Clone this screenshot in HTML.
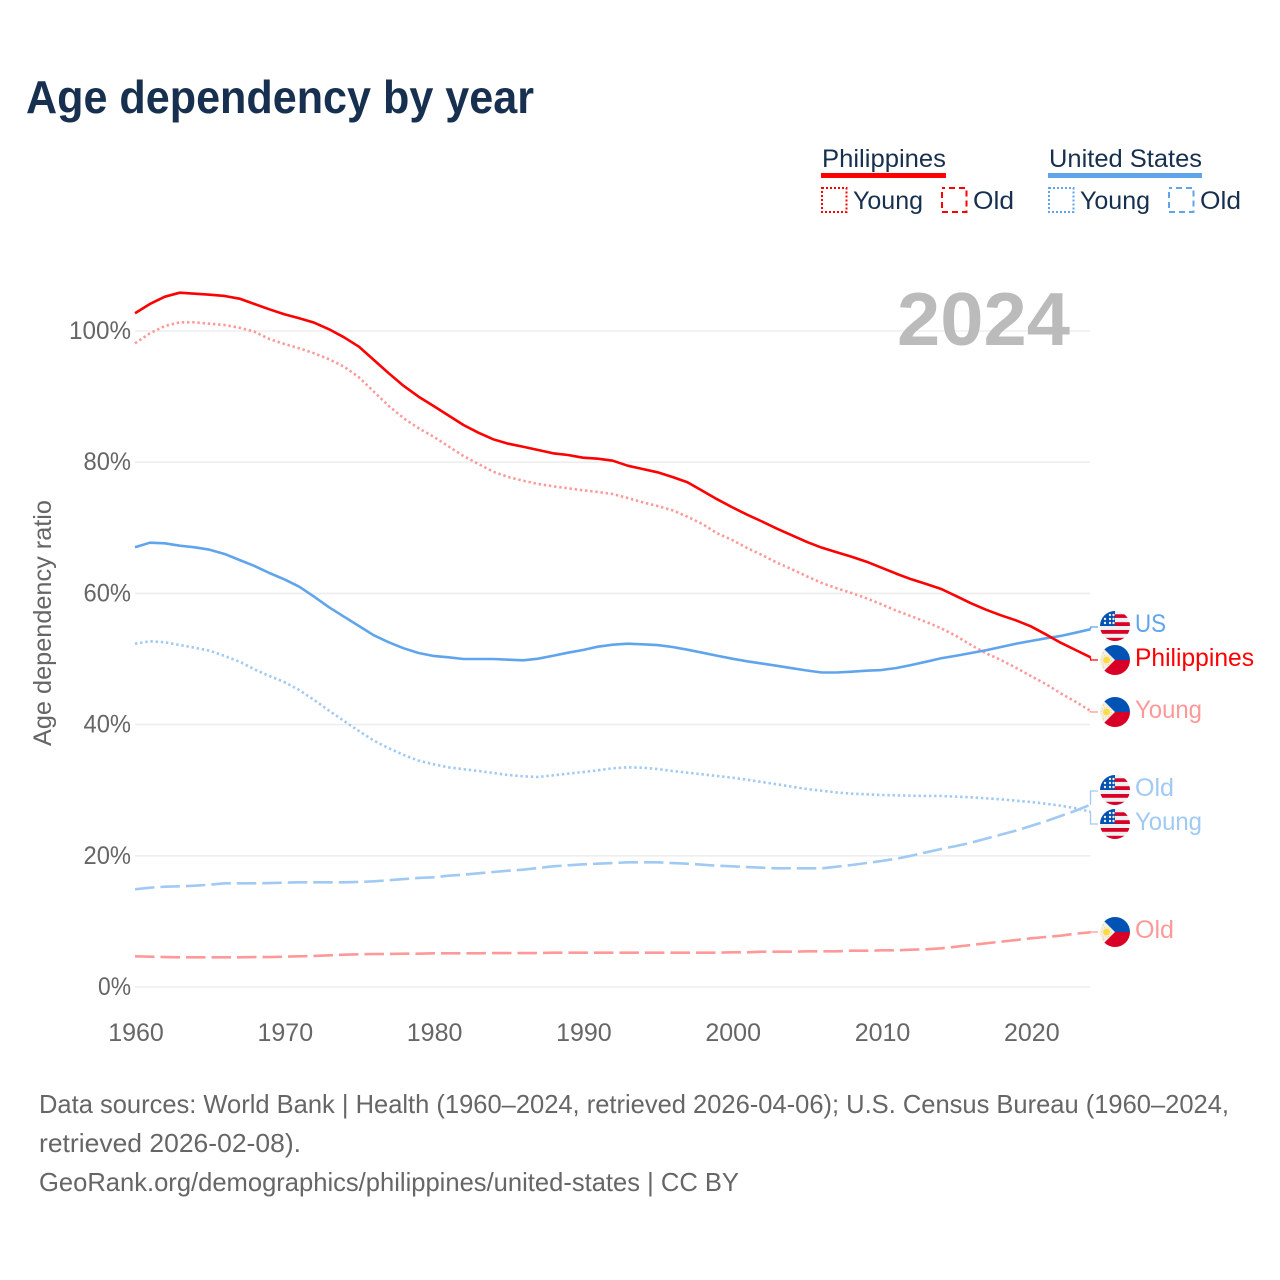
<!DOCTYPE html>
<html lang="en">
<head>
<meta charset="utf-8">
<title>Age dependency by year</title>
<style>
html,body{margin:0;padding:0;background:#fff;width:1280px;height:1280px;overflow:hidden}
svg{display:block}
text{font-family:"Liberation Sans",sans-serif}
.tick{font-size:25px;fill:#666}
.leg{font-size:25px;fill:#17304f}
.src{font-size:26px;fill:#666}
.lab{font-size:25px}
</style>
</head>
<body>
<svg id="chart" xmlns="http://www.w3.org/2000/svg" width="1280" height="1280" viewBox="0 0 1280 1280">
  <defs>
    <clipPath id="flag-clip"><circle cx="0" cy="0" r="15"/></clipPath>
    <g id="flag-us" clip-path="url(#flag-clip)">
      <rect x="-15" y="-15" width="30" height="30" fill="#f0f0f0"/>
      <rect x="0" y="-11.7" width="15" height="3.6" fill="#d80027"/>
      <rect x="0" y="-3.8" width="15" height="3.8" fill="#d80027"/>
      <rect x="-15" y="4" width="30" height="3.8" fill="#d80027"/>
      <rect x="-15" y="11.8" width="30" height="3.2" fill="#d80027"/>
      <rect x="-15" y="-15" width="15" height="15" fill="#0052b4"/>
      <g fill="#f0f0f0">
        <circle cx="-10" cy="-3" r="1.2"/><circle cx="-5" cy="-3" r="1.2"/><circle cx="-1.5" cy="-3" r="1.2"/>
        <circle cx="-10" cy="-7" r="1.2"/><circle cx="-5" cy="-7" r="1.2"/><circle cx="-1.5" cy="-7" r="1.2"/>
        <circle cx="-5" cy="-11" r="1.2"/><circle cx="-1.5" cy="-11" r="1.2"/>
      </g>
    </g>
    <g id="flag-ph" clip-path="url(#flag-clip)">
      <rect x="-15" y="-15" width="30" height="30" fill="#f0f0f0"/>
      <polygon points="-15,-15 15,-15 15,0 0,0" fill="#0052b4"/>
      <polygon points="-15,15 15,15 15,0 0,0" fill="#d80027"/>
      <circle cx="-8.5" cy="0" r="3.5" fill="#ffda44"/>
      <circle cx="-8.5" cy="0" r="5" fill="none" stroke="#ffda44" stroke-width="1" stroke-dasharray="1 1.6"/>
      <circle cx="-11.5" cy="-7" r="0.8" fill="#ffda44"/>
      <circle cx="-11.5" cy="7" r="0.8" fill="#ffda44"/>
    </g>
  </defs>

  <rect width="1280" height="1280" fill="#fff"/>

  <text x="26" y="113" font-size="46" font-weight="700" fill="#17304f" textLength="508" lengthAdjust="spacingAndGlyphs">Age dependency by year</text>

  <g>
    <text class="leg" x="822" y="167" textLength="124" lengthAdjust="spacingAndGlyphs">Philippines</text>
    <rect x="821" y="173" width="125" height="5" fill="#ff0000"/>
    <rect x="822" y="188" width="24.500" height="24" fill="none" stroke="#ff0000" stroke-width="2" stroke-dasharray="2 2"/>
    <text class="leg" x="853" y="209" textLength="70" lengthAdjust="spacingAndGlyphs">Young</text>
    <rect x="942" y="188" width="24.500" height="24" fill="none" stroke="#ff0000" stroke-width="2" stroke-dasharray="6 4" stroke-dashoffset="3"/>
    <text class="leg" x="973" y="209" textLength="41" lengthAdjust="spacingAndGlyphs">Old</text>

    <text class="leg" x="1049" y="167" textLength="153" lengthAdjust="spacingAndGlyphs">United States</text>
    <rect x="1048" y="173" width="154" height="5" fill="#60a5ec"/>
    <rect x="1049" y="188" width="24.500" height="24" fill="none" stroke="#60a5ec" stroke-width="2" stroke-dasharray="2 2"/>
    <text class="leg" x="1080" y="209" textLength="70" lengthAdjust="spacingAndGlyphs">Young</text>
    <rect x="1169" y="188" width="24.500" height="24" fill="none" stroke="#60a5ec" stroke-width="2" stroke-dasharray="6 4" stroke-dashoffset="3"/>
    <text class="leg" x="1200" y="209" textLength="41" lengthAdjust="spacingAndGlyphs">Old</text>
  </g>

  <g id="grid"></g>
  <g id="yticks"></g>
  <g id="xticks"></g>

  <text class="tick" transform="translate(51,746) rotate(-90)" x="0" y="0" textLength="246" lengthAdjust="spacingAndGlyphs">Age dependency ratio</text>

  <text x="897" y="345" font-size="75" font-weight="700" fill="#bbbbbb" textLength="173" lengthAdjust="spacingAndGlyphs">2024</text>

  <g id="series"></g>

  <g>
    <use href="#flag-us" x="1115" y="626"/>
    <text class="lab" x="1135" y="632" fill="#60a5ec" textLength="31" lengthAdjust="spacingAndGlyphs">US</text>
    <use href="#flag-ph" x="1115" y="660"/>
    <text class="lab" x="1135" y="666" fill="#ff0000" textLength="119" lengthAdjust="spacingAndGlyphs">Philippines</text>
    <use href="#flag-ph" x="1115" y="712"/>
    <text class="lab" x="1135" y="718" fill="#ff9999" textLength="67" lengthAdjust="spacingAndGlyphs">Young</text>
    <use href="#flag-us" x="1115" y="790"/>
    <text class="lab" x="1135" y="796" fill="#a0c9f4" textLength="39" lengthAdjust="spacingAndGlyphs">Old</text>
    <use href="#flag-us" x="1115" y="824"/>
    <text class="lab" x="1135" y="830" fill="#a0c9f4" textLength="67" lengthAdjust="spacingAndGlyphs">Young</text>
    <use href="#flag-ph" x="1115" y="932"/>
    <text class="lab" x="1135" y="938" fill="#ff9999" textLength="39" lengthAdjust="spacingAndGlyphs">Old</text>
  </g>

  <g>
    <text class="src" x="39" y="1113" textLength="1190" lengthAdjust="spacingAndGlyphs">Data sources: World Bank | Health (1960–2024, retrieved 2026-04-06); U.S. Census Bureau (1960–2024,</text>
    <text class="src" x="39" y="1152" textLength="262" lengthAdjust="spacingAndGlyphs">retrieved 2026-02-08).</text>
    <text class="src" x="39" y="1191" textLength="700" lengthAdjust="spacingAndGlyphs">GeoRank.org/demographics/philippines/united-states | CC BY</text>
  </g>
</svg>
<script>
const startYear = 1960;
const xTickLabels = [1960, 1970, 1980, 1990, 2000, 2010, 2020];
const yTickLabels = [0, 20, 40, 60, 80, 100];

const phTotal = [102.70,104.12,105.23,105.84,105.69,105.53,105.34,104.93,104.12,103.31,102.55,101.94,101.27,100.26,99.04,97.61,95.58,93.55,91.62,89.98,88.57,87.12,85.67,84.50,83.49,82.82,82.36,81.86,81.36,81.10,80.69,80.53,80.23,79.47,78.96,78.46,77.74,76.94,75.65,74.34,73.13,72.00,70.96,69.86,68.86,67.84,66.97,66.27,65.59,64.83,63.92,63.00,62.15,61.43,60.67,59.60,58.49,57.52,56.66,55.90,54.98,53.76,52.48,51.37,50.26];
const phYoung = [98.13,99.65,100.76,101.33,101.33,101.11,100.91,100.50,99.89,98.78,98.02,97.36,96.60,95.69,94.56,92.94,90.75,88.57,86.69,85.17,83.89,82.41,80.95,79.73,78.55,77.74,77.18,76.68,76.33,76.02,75.72,75.46,75.15,74.54,73.89,73.32,72.67,71.69,70.58,69.16,68.14,66.92,65.85,64.68,63.67,62.61,61.59,60.78,60.06,59.25,58.34,57.36,56.51,55.64,54.68,53.51,52.13,50.87,49.85,48.67,47.41,46.19,44.77,43.49,42.07];
const phOld = [4.68,4.62,4.57,4.53,4.53,4.53,4.53,4.53,4.57,4.57,4.62,4.68,4.73,4.83,4.92,4.98,5.03,5.03,5.08,5.08,5.14,5.14,5.14,5.14,5.18,5.18,5.18,5.18,5.23,5.23,5.23,5.23,5.23,5.23,5.23,5.23,5.23,5.23,5.23,5.23,5.29,5.29,5.38,5.38,5.38,5.44,5.44,5.44,5.53,5.53,5.59,5.59,5.69,5.75,5.90,6.14,6.40,6.66,6.91,7.16,7.42,7.62,7.82,8.13,8.34];
const usTotal = [67.03,67.73,67.64,67.27,67.03,66.66,66.01,65.09,64.18,63.11,62.15,61.02,59.50,57.88,56.45,55.03,53.61,52.55,51.63,50.91,50.46,50.26,50.00,50.00,50.00,49.89,49.80,50.05,50.50,50.96,51.37,51.88,52.18,52.33,52.24,52.13,51.83,51.42,50.96,50.50,50.05,49.65,49.31,48.96,48.60,48.25,47.94,47.94,48.06,48.22,48.32,48.63,49.09,49.59,50.11,50.50,50.91,51.33,51.83,52.33,52.74,53.15,53.51,54.01,54.53];
const usYoung = [52.33,52.70,52.55,52.13,51.72,51.27,50.46,49.59,48.43,47.41,46.49,45.27,43.75,42.12,40.55,39.02,37.55,36.39,35.37,34.50,33.95,33.49,33.20,32.93,32.62,32.32,32.12,32.01,32.27,32.52,32.77,33.03,33.34,33.49,33.43,33.23,32.93,32.67,32.42,32.16,31.91,31.60,31.25,30.90,30.53,30.18,29.92,29.65,29.47,29.37,29.27,29.22,29.16,29.12,29.12,29.01,28.92,28.76,28.61,28.40,28.20,27.94,27.64,27.24,26.72];
const usOld = [14.89,15.14,15.29,15.35,15.44,15.59,15.81,15.81,15.81,15.85,15.90,15.96,15.96,15.96,15.96,16.01,16.11,16.27,16.46,16.62,16.72,16.97,17.12,17.33,17.53,17.73,17.88,18.14,18.40,18.55,18.70,18.80,18.90,19.01,19.01,19.01,18.90,18.80,18.64,18.49,18.40,18.29,18.19,18.09,18.09,18.09,18.09,18.34,18.60,18.90,19.21,19.56,20.02,20.53,21.04,21.49,22.00,22.61,23.22,23.83,24.54,25.26,26.07,26.87,27.79];

const NS = 'http://www.w3.org/2000/svg';
function xScale(year) { return 135 + (year - startYear) * 14.93; }
function yScale(v) { return 987 - v * 6.56; }

const gridLayer = document.getElementById('grid');
const yTickLayer = document.getElementById('yticks');
yTickLabels.forEach(function (t) {
  const line = document.createElementNS(NS, 'line');
  
  
  line.setAttribute('x1', 135);
  line.setAttribute('x2', 1090);
  line.setAttribute('y1', yScale(t));
  line.setAttribute('y2', yScale(t));
  line.setAttribute('stroke', '#eeeeee');
  line.setAttribute('stroke-width', '1.6');
  gridLayer.appendChild(line);
  const label = document.createElementNS(NS, 'text');
  
  
  label.setAttribute('class', 'tick');
  label.setAttribute('x', 131);
  label.setAttribute('y', yScale(t) + 8);
  label.setAttribute('text-anchor', 'end');
  label.setAttribute('textLength', 14.5 * String(t).length + 18.5);
  label.setAttribute('lengthAdjust', 'spacingAndGlyphs');
  label.textContent = t + '%';
  yTickLayer.appendChild(label);
});

const xTickLayer = document.getElementById('xticks');
xTickLabels.forEach(function (t) {
  const label = document.createElementNS(NS, 'text');
  
  
  label.setAttribute('class', 'tick');
  label.setAttribute('x', xScale(t) + 1);
  label.setAttribute('y', 1041);
  label.setAttribute('text-anchor', 'middle');
  label.textContent = t;
  xTickLayer.appendChild(label);
});

const seriesLayer = document.getElementById('series');
function drawSeries(name, values, color, width, dash, leaderY) {
  const d = values.map(function (v, i) {
    return (i ? 'L' : 'M') + xScale(startYear + i).toFixed(2) + ' ' + yScale(v).toFixed(2);
  }).join('');
  const path = document.createElementNS(NS, 'path');
  
  
  path.setAttribute('d', d);
  path.setAttribute('fill', 'none');
  path.setAttribute('stroke', color);
  path.setAttribute('stroke-width', width);
  path.setAttribute('stroke-linejoin', 'round');
  if (dash) path.setAttribute('stroke-dasharray', dash);
  seriesLayer.appendChild(path);
  const endX = xScale(startYear + values.length - 1);
  const endY = yScale(values[values.length - 1]);
  const leader = document.createElementNS(NS, 'path');
  
  
  leader.setAttribute('d', 'M' + endX.toFixed(2) + ' ' + endY.toFixed(2) + 'L' + endX.toFixed(2) + ' ' + leaderY + 'L1098 ' + leaderY);
  leader.setAttribute('fill', 'none');
  leader.setAttribute('stroke', color);
  leader.setAttribute('stroke-width', '1.3');
  seriesLayer.appendChild(leader);
}
drawSeries('philippines-old', phOld, '#ff9999', 2.6, '19.5 6', 932);
drawSeries('us-old', usOld, '#a0c9f4', 2.6, '19.5 6', 791);
drawSeries('philippines-young', phYoung, '#ff9999', 2.6, '2.4 2.8', 712);
drawSeries('us-young', usYoung, '#a0c9f4', 2.6, '2.4 2.8', 824);
drawSeries('us-total', usTotal, '#60a5ec', 2.6, '', 627);
drawSeries('philippines-total', phTotal, '#ff0000', 2.6, '', 660);
</script>
</body>
</html>
